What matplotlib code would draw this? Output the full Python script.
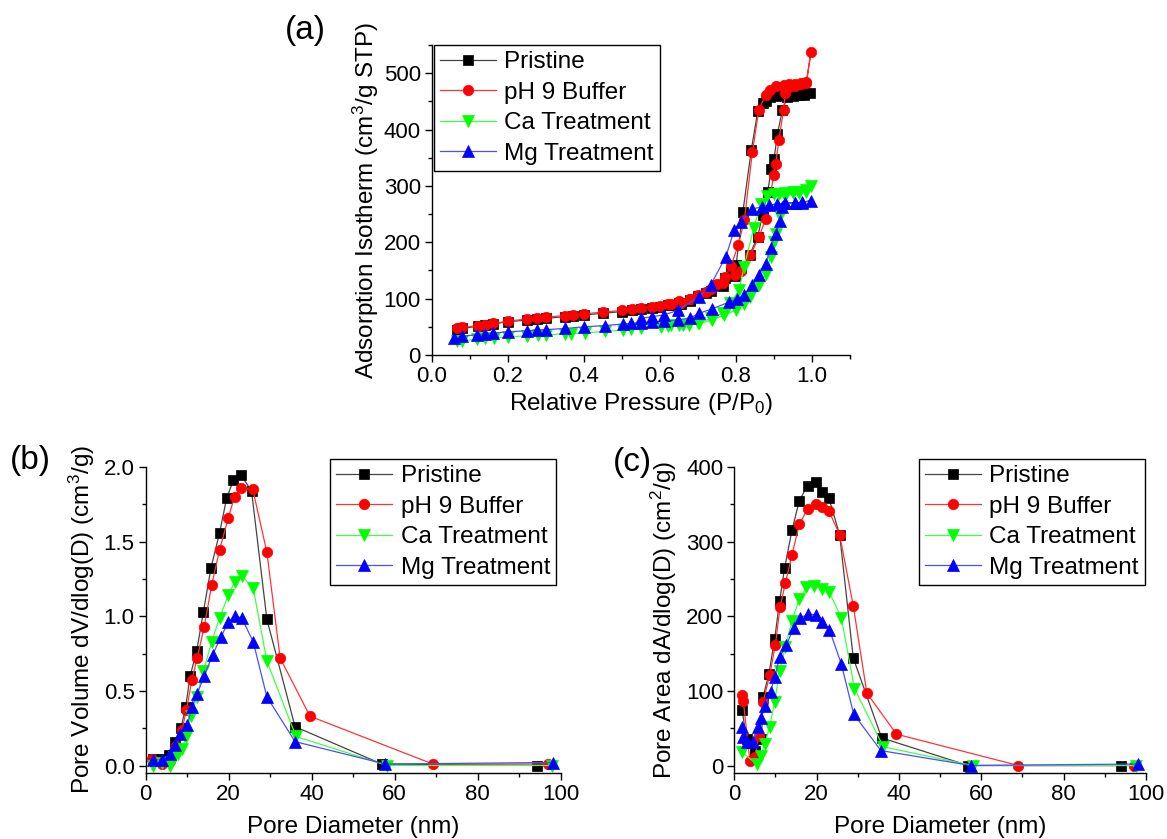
import numpy as np
import matplotlib
matplotlib.use("Agg")
import matplotlib.pyplot as plt
from matplotlib.ticker import MultipleLocator, FormatStrFormatter

plt.rcParams['font.family'] = ['Liberation Sans', 'DejaVu Sans']
plt.rcParams['mathtext.fontset'] = 'custom'
plt.rcParams['mathtext.rm'] = 'Liberation Sans'
plt.rcParams['mathtext.default'] = 'regular'

labels = ['Pristine', 'pH 9 Buffer', 'Ca Treatment', 'Mg Treatment']

# (a) isotherms: adsorption branch then desorption branch
pr_p = [0.065, 0.08, 0.12, 0.14, 0.16, 0.20, 0.25, 0.275, 0.30, 0.35, 0.37, 0.40, 0.45, 0.50, 0.525,
        0.55, 0.60, 0.63, 0.655, 0.68, 0.70, 0.735, 0.766, 0.796, 0.813, 0.836, 0.857, 0.870, 0.883,
        0.893, 0.900, 0.909, 0.922, 0.935, 0.95, 0.965, 0.98, 0.995,
        0.98, 0.96, 0.94, 0.92, 0.905, 0.89, 0.878, 0.870, 0.857, 0.840, 0.818, 0.80, 0.786, 0.77,
        0.75, 0.72, 0.68, 0.65, 0.62, 0.58]
pr_v = [45, 47, 51, 53, 55, 59, 62, 63, 65, 68, 69, 71, 74, 77, 79,
        81, 85, 88, 91, 96, 104, 114, 123, 140, 155, 178, 210, 249, 289,
        330, 348, 392, 435, 458, 460, 461, 462, 465,
        464, 463, 462, 461, 460, 457, 451, 447, 432, 363, 254, 160, 148, 136,
        124, 110, 98, 93, 89, 84]

ph_p = [0.065, 0.08, 0.12, 0.14, 0.16, 0.20, 0.25, 0.275, 0.30, 0.35, 0.37, 0.40, 0.45, 0.50, 0.525,
        0.55, 0.60, 0.63, 0.655, 0.68, 0.70, 0.735, 0.766, 0.796, 0.814, 0.838, 0.86, 0.878, 0.90,
        0.904, 0.913, 0.925, 0.93, 0.94, 0.955, 0.97, 0.985, 0.997,
        0.985, 0.97, 0.955, 0.94, 0.925, 0.905, 0.89, 0.878, 0.86, 0.843, 0.822, 0.806, 0.786, 0.771,
        0.75, 0.72, 0.68, 0.65, 0.62, 0.58]
ph_v = [47, 49, 52, 54, 56, 60, 64, 65, 67, 70, 71, 73, 76, 79, 81,
        83, 87, 90, 93, 99, 107, 117, 127, 142, 149, 177, 209, 241, 320,
        338, 382, 435, 465, 476, 478, 480, 482, 537,
        484, 483, 481, 480, 479, 477, 470, 462, 435, 360, 240, 195, 157, 139,
        126, 112, 100, 95, 91, 86]

ca_p = [0.065, 0.079, 0.118, 0.14, 0.162, 0.20, 0.249, 0.28, 0.30, 0.35, 0.367, 0.402, 0.454, 0.502,
        0.524, 0.55, 0.603, 0.629, 0.65, 0.677, 0.703, 0.738, 0.769, 0.799, 0.821, 0.838, 0.86, 0.878,
        0.891, 0.90, 0.904, 0.917, 0.93, 0.95, 0.965, 0.983, 0.998,
        0.983, 0.965, 0.95, 0.93, 0.913, 0.90, 0.882, 0.865, 0.847, 0.821, 0.808, 0.785, 0.766, 0.735,
        0.70, 0.66, 0.62]
ca_v = [24, 25, 28, 30, 30, 32, 34, 35, 35, 38, 38, 39, 42, 44,
        46, 48, 50, 53, 53, 53, 56, 62, 71, 79, 91, 103, 124, 144,
        174, 200, 215, 247, 282, 287, 288, 290, 300,
        292, 290, 289, 287, 285, 285, 282, 268, 226, 156, 115, 92, 75, 65,
        57, 54, 52]

mg_p = [0.057, 0.079, 0.118, 0.14, 0.16, 0.20, 0.25, 0.275, 0.30, 0.35, 0.40, 0.454, 0.502, 0.524,
        0.55, 0.58, 0.61, 0.646, 0.68, 0.703, 0.738, 0.782, 0.803, 0.821, 0.843, 0.86, 0.878, 0.891,
        0.904, 0.917, 0.92, 0.93, 0.956, 0.974, 0.998,
        0.974, 0.956, 0.93, 0.908, 0.886, 0.868, 0.843, 0.812, 0.795, 0.773, 0.733, 0.703, 0.646,
        0.61, 0.58, 0.55]
mg_v = [30, 33, 36, 37, 39, 41, 43, 44, 45, 47, 50, 52, 55, 56,
        57, 58, 60, 62, 66, 74, 82, 94, 100, 106, 124, 142, 162, 189,
        215, 238, 262, 269, 270, 270, 274,
        271, 270, 269, 268, 266, 263, 259, 236, 221, 174, 124, 103, 79,
        71, 68, 65]

# (b) pore volume distributions
pr_dv_x = [1.8, 3.9, 5.5, 7.1, 8.5, 9.6, 10.7, 12.3, 13.9, 15.7, 17.8, 19.5, 21.1, 23.0, 25.5, 29.2, 36.0, 56.9, 94.4]
pr_dv_y = [0.045, 0.045, 0.07, 0.16, 0.25, 0.39, 0.60, 0.77, 1.03, 1.32, 1.56, 1.79, 1.91, 1.944, 1.84, 0.98, 0.26, 0.01, 0.0]
ph_dv_x = [1.6, 3.9, 5.9, 7.2, 8.7, 9.8, 11.1, 12.4, 14.1, 15.9, 17.8, 19.9, 21.4, 23.0, 25.8, 29.2, 32.4, 39.6, 69.2, 97.0]
ph_dv_y = [0.045, 0.01, 0.03, 0.13, 0.235, 0.37, 0.57, 0.72, 0.93, 1.21, 1.445, 1.66, 1.80, 1.86, 1.85, 1.43, 0.72, 0.33, 0.01, 0.01]
ca_dv_x = [1.8, 4.0, 5.9, 6.8, 7.8, 8.7, 9.7, 10.8, 12.3, 13.9, 15.9, 17.8, 19.9, 21.4, 23.1, 25.9, 29.2, 36.2, 58.2, 98.0]
ca_dv_y = [0.0, 0.02, 0.0, 0.056, 0.08, 0.11, 0.19, 0.33, 0.46, 0.63, 0.83, 0.99, 1.14, 1.23, 1.27, 1.19, 0.70, 0.195, 0.0, 0.0]
mg_dv_x = [1.8, 3.9, 5.9, 7.1, 8.3, 10.0, 11.1, 12.4, 14.1, 16.1, 18.1, 19.9, 21.5, 23.1, 25.9, 29.2, 36.0, 57.7, 98.1]
mg_dv_y = [0.035, 0.04, 0.08, 0.14, 0.21, 0.27, 0.39, 0.48, 0.60, 0.74, 0.86, 0.96, 1.0, 0.99, 0.83, 0.46, 0.16, 0.01, 0.02]

# (c) pore area distributions
pr_da_x = [1.9, 3.0, 5.0, 6.6, 7.0, 8.4, 9.8, 11.0, 12.2, 14.0, 15.8, 17.8, 19.8, 21.4, 23.0, 25.6, 28.9, 35.8, 56.8, 94.0]
pr_da_y = [74, 36, 20, 36, 92, 123, 169, 220, 264, 315, 355, 375, 380, 366, 358, 309, 144, 37, 0, 0]
ph_da_x = [1.9, 2.2, 3.8, 5.0, 6.0, 7.0, 8.6, 10.0, 11.1, 12.4, 14.0, 15.8, 17.8, 19.8, 21.4, 23.0, 25.6, 28.9, 32.2, 39.4, 69.0, 97.0]
ph_da_y = [95, 86, 6, 11, 40, 85, 121, 162, 212, 244, 282, 323, 344, 351, 346, 341, 309, 214, 97, 42, 0, 0]
ca_da_x = [1.9, 5.4, 6.6, 7.4, 8.6, 9.8, 11.0, 12.4, 14.0, 15.8, 17.5, 19.4, 21.4, 23.1, 26.0, 29.2, 36.2, 57.9, 97.5]
ca_da_y = [18, 2, 13, 29, 52, 85, 127, 159, 194, 223, 239, 241, 237, 232, 198, 103, 25, 0, 0]
mg_da_x = [1.9, 2.2, 3.0, 4.6, 5.8, 6.6, 7.4, 8.8, 9.8, 11.0, 12.6, 14.4, 16.0, 17.8, 19.8, 21.4, 23.1, 26.0, 29.0, 35.6, 57.5, 98.0]
mg_da_y = [51, 38, 32, 32, 51, 64, 80, 98, 118, 145, 161, 184, 197, 203, 202, 192, 182, 136, 69, 20, 0, 2]

marker_colors = ['black', 'red', '#00ff00', 'blue']
line_colors = ['#444444', '#ff3333', '#44ff44', '#4d4dff']
markers = ['s', 'o', 'v', '^']
msizes = [7, 7.5, 8.5, 8.5]

fig = plt.figure(figsize=(11.67, 8.39), dpi=100)
ax_a = fig.add_axes([0.3702, 0.5769, 0.3582, 0.3695])
ax_b = fig.add_axes([0.1249, 0.0787, 0.3554, 0.3647])
ax_c = fig.add_axes([0.6292, 0.0787, 0.3528, 0.3647])


def draw(ax, xs, ys):
    for i in range(4):
        ax.plot(xs[i], ys[i], color=line_colors[i], lw=0.9, marker=markers[i], ms=msizes[i],
                mfc=marker_colors[i], mec=marker_colors[i], mew=0.5, label=labels[i])


def style(ax, xmaj, xmin, ymaj, ymin, xfmt, yfmt):
    for s in ['top', 'right']:
        ax.spines[s].set_visible(False)
    for s in ['left', 'bottom']:
        ax.spines[s].set_linewidth(1.0)
    ax.xaxis.set_major_locator(MultipleLocator(xmaj))
    ax.xaxis.set_minor_locator(MultipleLocator(xmin))
    ax.yaxis.set_major_locator(MultipleLocator(ymaj))
    ax.yaxis.set_minor_locator(MultipleLocator(ymin))
    ax.xaxis.set_major_formatter(FormatStrFormatter(xfmt))
    ax.yaxis.set_major_formatter(FormatStrFormatter(yfmt))
    ax.tick_params(which='major', direction='out', length=5, width=1, labelsize=16, pad=3)
    ax.tick_params(which='minor', direction='out', length=3, width=1)


def legend(ax, x0, y0):
    lg = ax.legend(loc='upper left', bbox_to_anchor=(x0, y0), bbox_transform=fig.transFigure,
                   fontsize=17.5, frameon=True, fancybox=False, framealpha=1, edgecolor='black',
                   borderaxespad=0, borderpad=0.25, handlelength=2.3, handletextpad=0.35,
                   labelspacing=0.35)
    lg.get_frame().set_linewidth(1.0)


draw(ax_a, [pr_p, ph_p, ca_p, mg_p], [pr_v, ph_v, ca_v, mg_v])
ax_a.set_xlim(0, 1.1)
ax_a.set_ylim(0, 550)
style(ax_a, 0.2, 0.1, 100, 50, '%.1f', '%d')
ax_a.set_xlabel('Relative Pressure (P/P$_0$)', fontsize=17.5, labelpad=3)
ax_a.set_ylabel('Adsorption Isotherm (cm$^3$/g STP)', fontsize=17.5, labelpad=2)
legend(ax_a, 0.3719, 0.9464)

draw(ax_b, [pr_dv_x, ph_dv_x, ca_dv_x, mg_dv_x], [pr_dv_y, ph_dv_y, ca_dv_y, mg_dv_y])
ax_b.set_xlim(0, 100)
ax_b.set_ylim(-0.05, 2.0)
style(ax_b, 20, 10, 0.5, 0.25, '%d', '%.1f')
ax_b.set_xlabel('Pore Diameter (nm)', fontsize=17.5, labelpad=8)
ax_b.set_ylabel('Pore Volume dV/dlog(D) (cm$^3$/g)', fontsize=17.5, labelpad=5)
legend(ax_b, 0.2828, 0.4529)

draw(ax_c, [pr_da_x, ph_da_x, ca_da_x, mg_da_x], [pr_da_y, ph_da_y, ca_da_y, mg_da_y])
ax_c.set_xlim(0, 100)
ax_c.set_ylim(-10, 400)
style(ax_c, 20, 10, 100, 50, '%d', '%d')
ax_c.set_xlabel('Pore Diameter (nm)', fontsize=17.5, labelpad=8)
ax_c.set_ylabel('Pore Area dA/dlog(D) (cm$^2$/g)', fontsize=17.5, labelpad=5)
legend(ax_c, 0.7875, 0.4529)

fig.text(305 / 1167, 1 - 30 / 839, '(a)', fontsize=24, ha='center', va='center')
fig.text(30 / 1167, 1 - 460 / 839, '(b)', fontsize=24, ha='center', va='center')
fig.text(632 / 1167, 1 - 462 / 839, '(c)', fontsize=24, ha='center', va='center')

fig.savefig('out.png', dpi=100)
